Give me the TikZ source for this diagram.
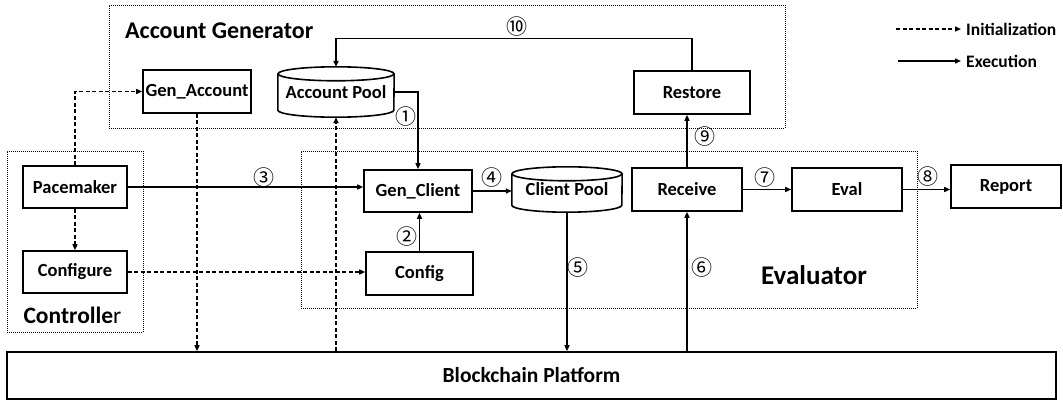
\documentclass[tikz,border=0pt]{standalone}
\usepackage{fontspec}
\setmainfont{Carlito}
\newfontfamily\numfont{Noto Sans CJK JP}
\usetikzlibrary{arrows.meta,calc}
\tikzset{
  box/.style={draw, line width=1.6pt, inner sep=0pt, font=\bfseries\fontsize{18.5}{21}\selectfont},
  pool/.style={inner sep=0pt, font=\bfseries\fontsize{18.5}{21}\selectfont},
  cylline/.style={line width=1.6pt},
  group/.style={draw, line width=0.9pt, dash pattern=on 1pt off 1pt},
  exe/.style={line width=1.4pt, -{Triangle[length=6pt,width=5pt]}},
  ini/.style={exe, dash pattern=on 4pt off 2.5pt},
  num/.style={font=\numfont\fontsize{21}{23}\selectfont, inner sep=0pt},
  legend/.style={font=\bfseries\fontsize{17.5}{20}\selectfont, inner sep=0pt},
}
\newcommand{\cylinderframe}[3]{% node, rx, ry
  \draw[cylline] ($(#1.north west)+(0,-#3)$) -- ($(#1.south west)+(0,#3)$)
     arc[start angle=180, end angle=360, x radius=#2, y radius=#3]
     -- ($(#1.north east)+(0,-#3)$);
  \draw[cylline] ($(#1.north)+(0,-#3)$) ellipse[x radius=#2, y radius=#3];
}
\begin{document}
\begin{tikzpicture}[x=1pt,y=1pt]
\useasboundingbox (0,0) rectangle (1063,405);
% group frames
\node[group, minimum width=676, minimum height=123] (AGG) at (447,338.5) {};
\node[group, minimum width=136, minimum height=181] (CTL) at (75,163.5) {};
\node[group, minimum width=616, minimum height=157] (EVG) at (609,175.5) {};
% group titles
\node[anchor=west, inner sep=0pt, font=\bfseries\fontsize{24}{28}\selectfont] (tAG) at (125,374) {Account Generator};
\node[inner sep=0pt, font=\fontsize{23.5}{27}\selectfont] (tCT) at (72.5,90) {{\bfseries Controlle}r};
\node[inner sep=0pt, font=\bfseries\fontsize{27}{31}\selectfont] (tEV) at (814,130) {Evaluator};
% boxes
\node[box, minimum width=108, minimum height=43] (GA) at (197,313.5) {Gen\_Account};
\node[pool, minimum width=116, minimum height=50] (AP) at (336,313) {\raisebox{-4pt}{Account Pool}};
\cylinderframe{AP}{58}{7}
\node[box, minimum width=116, minimum height=43] (RS) at (692,312.5) {Restore};
\node[box, minimum width=104, minimum height=42] (PM) at (75,218) {Pacemaker};
\node[box, minimum width=104, minimum height=42] (CF) at (75,133) {Configure};
\node[box, minimum width=108, minimum height=42] (GC) at (418,214) {Gen\_Client};
\node[box, minimum width=107, minimum height=43] (CG) at (419.5,131.5) {Config};
\node[pool, minimum width=110, minimum height=45] (CP) at (567,215.5) {\raisebox{-4pt}{Client Pool}};
\cylinderframe{CP}{55}{7}
\node[box, minimum width=110, minimum height=43] (RC) at (687,215.5) {Receive};
\node[box, minimum width=110, minimum height=43] (EV) at (847,215.5) {Eval};
\node[box, minimum width=110, minimum height=43] (RP) at (1006,218.5) {Report};
\node[box, minimum width=1049, minimum height=47, font=\bfseries\fontsize{21.5}{25}\selectfont] (BC) at (531.5,29.5) {Blockchain Platform};
% initialization (dashed)
\draw[ini] (PM.north) |- (GA.west);
\draw[ini] (PM.south) -- (CF.north);
\draw[ini] (CF.east) -- (CF.east -| CG.west);
\draw[ini] (GA.south) -- (GA.south |- BC.north);
\draw[ini] (AP.south |- BC.north) -- (AP.south);
% execution (solid)
\draw[exe] (AP.east) -| (GC.north);
\draw[exe] (CG.north) -- (CG.north |- GC.south);
\draw[exe] (PM.east) -- (PM.east -| GC.west);
\draw[exe] (GC.east) -- (GC.east -| CP.west);
\draw[exe] (CP.south) -- (CP.south |- BC.north);
\draw[exe] (RC.south |- BC.north) -- (RC.south);
\draw[exe] (RC.east) -- (RC.east -| EV.west);
\draw[exe] (EV.east) -- (EV.east -| RP.west);
\draw[exe] (RC.north) -- (RC.north |- RS.south);
\draw[exe] (RS.north) |- ($(AP.north)+(0,28)$) -- (AP.north);
% step numbers
\node[num] (n1) at (406,288) {①};
\node[num] (n2) at (407,168) {②};
\node[num] (n3) at (264,227) {③};
\node[num] (n4) at (492,227) {④};
\node[num] (n5) at (578,137) {⑤};
\node[num] (n6) at (702,137) {⑥};
\node[num] (n7) at (765,227) {⑦};
\node[num] (n8) at (928,228) {⑧};
\node[num] (n9) at (705,268) {⑨};
\node[num] (n10) at (517,378) {⑩};
% legend
\coordinate (l1a) at (896,376);
\coordinate (l1b) at (961,376);
\coordinate (l2a) at (898,344);
\coordinate (l2b) at (961,344);
\draw[ini] (l1a) -- (l1b);
\draw[exe] (l2a) -- (l2b);
\node[legend, anchor=west] (lg1) at (966,376) {Initialization};
\node[legend, anchor=west] (lg2) at (966,344) {Execution};
\end{tikzpicture}
\end{document}
